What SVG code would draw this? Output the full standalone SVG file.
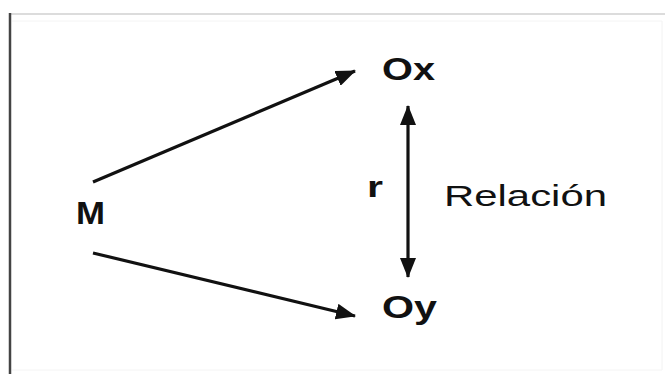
<svg xmlns="http://www.w3.org/2000/svg" width="665" height="374" viewBox="0 0 665 374">
  <style>
    .bold { font-family: "Liberation Sans", Arial, sans-serif; font-weight: bold; fill: #111; }
    .reg { font-family: "Liberation Sans", Arial, sans-serif; fill: #111; }
    .edge { stroke: #111; stroke-width: 3.2; fill: none; }
  </style>
  <defs>
    <marker id="head" markerUnits="userSpaceOnUse" markerWidth="20" markerHeight="16" refX="19" refY="8" orient="auto-start-reverse">
      <path d="M0,0 L20,8 L0,16 Z" fill="#111"/>
    </marker>
  </defs>
  <rect width="665" height="374" fill="#fff"/>
  <!-- frame -->
  <g id="frame">
    <line x1="10" y1="14" x2="665" y2="14" stroke="#dcdcdc" stroke-width="2"/>
    <line x1="12" y1="21" x2="662" y2="21" stroke="#f4f4f4" stroke-width="1"/>
    <line x1="662" y1="21" x2="662" y2="370" stroke="#f2f2f2" stroke-width="1"/>
    <line x1="12" y1="370" x2="662" y2="370" stroke="#f4f4f4" stroke-width="1"/>
    <line x1="10" y1="13" x2="10" y2="374" stroke="#444" stroke-width="2.5"/>
  </g>
  <g id="connectors">
    <line class="edge" x1="93" y1="182" x2="355" y2="71" marker-end="url(#head)"/>
    <line class="edge" x1="93" y1="253" x2="355" y2="316" marker-end="url(#head)"/>
    <line class="edge" stroke-width="2.8" x1="408" y1="106" x2="408" y2="277" marker-start="url(#head)" marker-end="url(#head)"/>
  </g>
  <g id="node-M"><text class="bold" x="76" y="224" font-size="31" textLength="29" lengthAdjust="spacingAndGlyphs">M</text></g>
  <g id="node-Ox"><text class="bold" x="382" y="80" font-size="32" textLength="53" lengthAdjust="spacingAndGlyphs">Ox</text></g>
  <g id="node-Oy"><text class="bold" x="382" y="318" font-size="32" textLength="55" lengthAdjust="spacingAndGlyphs">Oy</text></g>
  <g id="label-r"><text class="bold" x="367" y="197" font-size="29" textLength="16" lengthAdjust="spacingAndGlyphs">r</text></g>
  <g id="label-relacion"><text class="reg" x="444" y="206" font-size="30" textLength="163" lengthAdjust="spacingAndGlyphs">Relación</text></g>
</svg>
